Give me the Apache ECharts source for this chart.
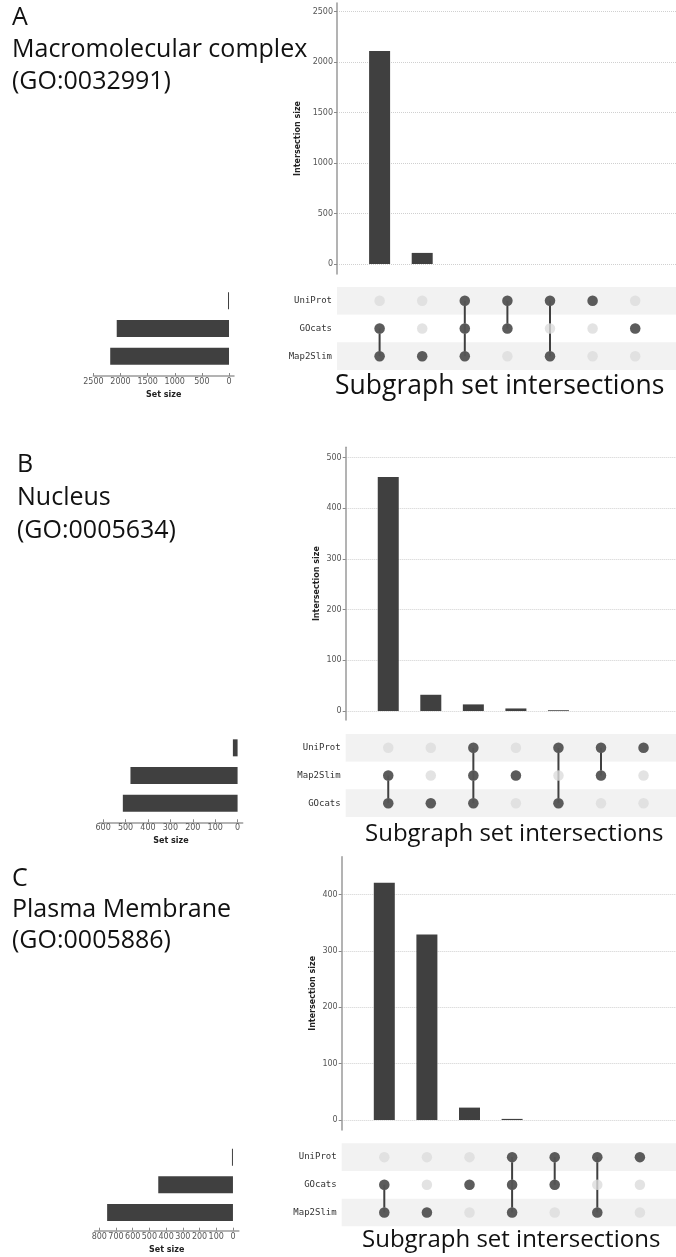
<!DOCTYPE html>
<html><head><meta charset="utf-8">
<script src="https://cdn.jsdelivr.net/npm/echarts@6/dist/echarts.min.js"></script>
<style>html,body{margin:0;padding:0;background:#fff}#c{width:676px;height:1257px}</style>
</head><body><div id="c"></div>
<script>
// ---------- Panel A : Macromolecular complex ----------
const setsA = ['UniProt', 'GOcats', 'Map2Slim'];
const interA = [2110, 110, 0, 0, 0, 0, 0];
const memberA = [['GOcats','Map2Slim'], ['Map2Slim'], ['UniProt','GOcats','Map2Slim'], ['UniProt','GOcats'], ['UniProt','Map2Slim'], ['UniProt'], ['GOcats']];
const setSizeA = [9, 2070, 2190];
const interTicksA = [0, 500, 1000, 1500, 2000, 2500];
const setTicksA = [0, 500, 1000, 1500, 2000, 2500];

// ---------- Panel B : Nucleus ----------
const setsB = ['UniProt', 'Map2Slim', 'GOcats'];
const interB = [462, 32, 13, 5, 1.5, 0, 0];
const memberB = [['Map2Slim','GOcats'], ['GOcats'], ['UniProt','Map2Slim','GOcats'], ['Map2Slim'], ['UniProt','GOcats'], ['UniProt','Map2Slim'], ['UniProt']];
const setSizeB = [21, 478, 512];
const interTicksB = [0, 100, 200, 300, 400, 500];
const setTicksB = [0, 100, 200, 300, 400, 500, 600];

// ---------- Panel C : Plasma Membrane ----------
const setsC = ['UniProt', 'GOcats', 'Map2Slim'];
const interC = [421, 329, 22, 2, 0, 0, 0];
const memberC = [['GOcats','Map2Slim'], ['Map2Slim'], ['GOcats'], ['UniProt','GOcats','Map2Slim'], ['UniProt','GOcats'], ['UniProt','Map2Slim'], ['UniProt']];
const setSizeC = [5, 447, 753];
const interTicksC = [0, 100, 200, 300, 400];
const setTicksC = [0, 100, 200, 300, 400, 500, 600, 700, 800];

const panelTitles = [
  ['A', 'Macromolecular complex', '(GO:0032991)'],
  ['B', 'Nucleus', '(GO:0005634)'],
  ['C', 'Plasma Membrane', '(GO:0005886)']
];
const matrixCaption = 'Subgraph set intersections';
const interAxisName = 'Intersection size';
const setAxisName = 'Set size';

// ---------- layout (positions / styles only) ----------
const layouts = [
  { inter: {left: 337, top: 3, height: 271, min: -99, max: 2586, nameGap: 30},
    colSpacing: 42.6, mat: {left: 337, top: 287, height: 83},
    set: {left: 93.4, width: 140.6, min: -92, max: 2500, offset: 6},
    title: {left: 12, top: 2, lh: 32}, caption: {left: 335, top: 373, size: 26.5} },
  { inter: {left: 345.7, top: 447.3, height: 272.7, min: -17.8, max: 520.5, nameGap: 25},
    colSpacing: 42.55, mat: {left: 345.7, top: 734, height: 83},
    set: {left: 99.3, width: 143.4, min: -22.8, max: 617, offset: 5.3},
    title: {left: 17, top: 448, lh: 33}, caption: {left: 365, top: 822, size: 24} },
  { inter: {left: 341.7, top: 856.7, height: 273.3, min: -17.7, max: 467, nameGap: 25},
    colSpacing: 42.6, mat: {left: 341.7, top: 1143.3, height: 83},
    set: {left: 94.6, width: 144.2, min: -35, max: 828, offset: 4.4},
    title: {left: 12, top: 863, lh: 31}, caption: {left: 362, top: 1228, size: 24} }
];

const panels = [
  {sets: setsA, inter: interA, member: memberA, setSize: setSizeA, iTicks: interTicksA, sTicks: setTicksA},
  {sets: setsB, inter: interB, member: memberB, setSize: setSizeB, iTicks: interTicksB, sTicks: setTicksB},
  {sets: setsC, inter: interC, member: memberC, setSize: setSizeC, iTicks: interTicksC, sTicks: setTicksC}
];

const DARK = '#404040';
const plain = v => String(v);
const grid = [], xAxis = [], yAxis = [], series = [], title = [];

panels.forEach((p, k) => {
  const L = layouts[k];
  const xMax = -1 + (676 - L.inter.left) / L.colSpacing;
  const g0 = grid.length;
  grid.push({left: L.inter.left, right: 0, top: L.inter.top, height: L.inter.height});
  grid.push({left: L.mat.left, right: 0, top: L.mat.top, height: L.mat.height});
  grid.push({left: L.set.left, width: L.set.width, top: L.mat.top, height: L.mat.height});

  xAxis.push({gridIndex: g0, type: 'value', min: -1, max: xMax, show: false});
  yAxis.push({gridIndex: g0, type: 'value', min: L.inter.min, max: L.inter.max,
    name: interAxisName, nameLocation: 'middle', nameRotate: 90, nameGap: L.inter.nameGap,
    nameTextStyle: {fontFamily: 'DejaVu Sans', fontSize: 8, fontWeight: 'bold', color: '#222'},
    axisLine: {show: true, onZero: false, lineStyle: {color: '#9a9a9a', width: 1.5}},
    axisTick: {show: true, length: 3, customValues: p.iTicks, lineStyle: {color: '#888'}},
    axisLabel: {customValues: p.iTicks, formatter: plain, fontFamily: 'DejaVu Sans', fontSize: 8, color: '#555', margin: 4},
    splitLine: {show: true, lineStyle: {type: 'dotted', color: '#d0d0d0', width: 1}}
  });
  xAxis.push({gridIndex: g0 + 1, type: 'value', min: -1, max: xMax, show: false});
  yAxis.push({gridIndex: g0 + 1, type: 'category', data: p.sets, inverse: true,
    axisLine: {show: false, onZero: false}, axisTick: {show: false},
    axisLabel: {fontFamily: 'DejaVu Sans Mono', fontSize: 9, color: '#333', margin: 5},
    splitLine: {show: false},
    splitArea: {show: true, areaStyle: {color: ['#f2f2f2', '#ffffff']}}
  });
  xAxis.push({gridIndex: g0 + 2, type: 'value', inverse: true, min: L.set.min, max: L.set.max,
    position: 'bottom', offset: L.set.offset,
    name: setAxisName, nameLocation: 'middle', nameGap: 15,
    nameTextStyle: {fontFamily: 'DejaVu Sans', fontSize: 8, fontWeight: 'bold', color: '#222'},
    axisLine: {show: true, onZero: false, lineStyle: {color: '#9a9a9a', width: 1.5}},
    axisTick: {show: true, inside: true, length: 3, customValues: p.sTicks, lineStyle: {color: '#888'}},
    axisLabel: {customValues: p.sTicks, formatter: plain, fontFamily: 'DejaVu Sans', fontSize: 8, color: '#555', margin: 2},
    splitLine: {show: false}
  });
  yAxis.push({gridIndex: g0 + 2, type: 'category', data: p.sets, inverse: true, show: false});

  series.push({type: 'bar', xAxisIndex: g0, yAxisIndex: g0, barWidth: 21,
    itemStyle: {color: DARK}, silent: true,
    data: p.inter.map((v, i) => [i, v])});

  const bg = [];
  p.inter.forEach((v, i) => p.sets.forEach(s => bg.push([i, s])));
  series.push({type: 'scatter', xAxisIndex: g0 + 1, yAxisIndex: g0 + 1, symbolSize: 10.5,
    itemStyle: {color: '#dcdcdc'}, silent: true, data: bg});

  const seg = p.member.map((m, i) => {
    const idx = m.map(s => p.sets.indexOf(s));
    return [i, Math.min(...idx), Math.max(...idx)];
  }).filter(d => d[1] !== d[2]);
  series.push({type: 'custom', xAxisIndex: g0 + 1, yAxisIndex: g0 + 1, silent: true,
    renderItem: (params, api) => {
      const a = api.coord([api.value(0), api.value(1)]);
      const b = api.coord([api.value(0), api.value(2)]);
      return {type: 'line', shape: {x1: a[0], y1: a[1], x2: b[0], y2: b[1]},
        style: {stroke: DARK, lineWidth: 2}};
    },
    encode: {x: 0, y: [1, 2]},
    data: seg});

  const fg = [];
  p.member.forEach((m, i) => m.forEach(s => fg.push([i, s])));
  series.push({type: 'scatter', xAxisIndex: g0 + 1, yAxisIndex: g0 + 1, symbolSize: 10.5,
    itemStyle: {color: '#3a3a3a'}, silent: true, data: fg});

  series.push({type: 'bar', xAxisIndex: g0 + 2, yAxisIndex: g0 + 2, barWidth: 17, barMinHeight: 1,
    itemStyle: {color: DARK}, silent: true, data: p.setSize});

  title.push({text: panelTitles[k].join('\n'), left: L.title.left, top: L.title.top, padding: 0,
    textStyle: {fontFamily: 'Open Sans', fontSize: 25, fontWeight: 'normal', color: '#111', lineHeight: L.title.lh}});
  title.push({text: matrixCaption, left: L.caption.left, top: L.caption.top, padding: 0,
    textStyle: {fontFamily: 'Open Sans', fontSize: L.caption.size, fontWeight: 'normal', color: '#111'}});
});

const chart = echarts.init(document.getElementById('c'), null, {renderer: 'canvas'});
chart.setOption({backgroundColor: '#ffffff', animation: false, title, grid, xAxis, yAxis, series});
</script>
</body></html>
